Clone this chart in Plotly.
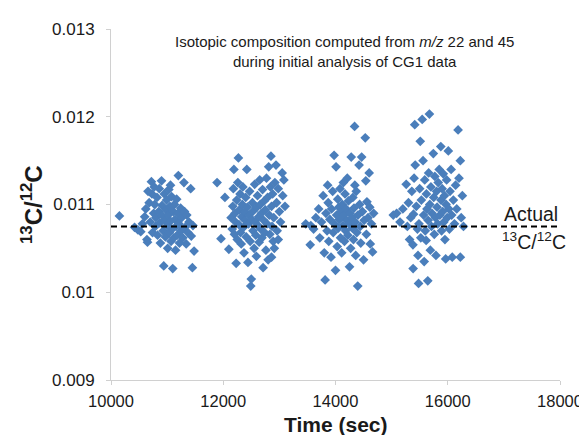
import plotly.graph_objects as go

# ---- data ----
time_s1 = [10150, 10420, 10480, 10530, 10560, 10600, 10620, 10640, 10650, 10680, 10700, 10720, 10730, 10740, 10760,
           10780, 10790, 10800, 10820, 10830, 10850, 10860, 10870, 10880, 10900, 10910, 10920, 10930, 10940, 10950,
           10960, 10970, 10980, 10990, 11000, 11010, 11020, 11030, 11040, 11050, 11060, 11070, 11080, 11090, 11100,
           11110, 11120, 11130, 11140, 11150, 11160, 11170, 11180, 11190, 11200, 11210, 11220, 11240, 11250, 11260,
           11280, 11300, 11310, 11320, 11340, 11350, 11370, 11390, 11420, 11430, 11450, 11460, 11480, 10660, 10770, 11060]
ratio_s1 = [0.01087, 0.01074, 0.01071, 0.01069, 0.01078, 0.01086, 0.01095, 0.01060, 0.01057, 0.01102, 0.01080, 0.01126,
            0.01112, 0.01068, 0.01090, 0.01100, 0.01075, 0.01085, 0.01108, 0.01065, 0.01092, 0.01118, 0.01079, 0.01056,
            0.01127, 0.01099, 0.01087, 0.01070, 0.01030, 0.01112, 0.01082, 0.01063, 0.01094, 0.01105, 0.01076, 0.01050,
            0.01088, 0.01117, 0.01068, 0.01098, 0.01081, 0.01058, 0.01109, 0.01072, 0.01027, 0.01092, 0.01062, 0.01100,
            0.01083, 0.01048, 0.01075, 0.01106, 0.01065, 0.01090, 0.01133, 0.01078, 0.01056, 0.01096, 0.01070, 0.01085,
            0.01062, 0.01125, 0.01092, 0.01074, 0.01055, 0.01088, 0.01068, 0.01080, 0.01118, 0.01064, 0.01028, 0.01076,
            0.01047, 0.01115, 0.01120, 0.01122]

time_s2 = [11890, 11960, 12030, 12100, 12140, 12160, 12170, 12180, 12190, 12200, 12210, 12220, 12230, 12240, 12250,
           12260, 12270, 12280, 12290, 12300, 12310, 12320, 12330, 12340, 12350, 12360, 12370, 12380, 12390, 12400,
           12410, 12420, 12430, 12440, 12450, 12460, 12470, 12480, 12490, 12500, 12510, 12520, 12530, 12540, 12550,
           12560, 12570, 12580, 12590, 12600, 12610, 12620, 12630, 12640, 12650, 12660, 12670, 12680, 12690, 12700,
           12710, 12720, 12730, 12740, 12750, 12760, 12770, 12780, 12790, 12800, 12810, 12820, 12830, 12840, 12850,
           12860, 12870, 12880, 12890, 12900, 12910, 12920, 12940, 12950, 12960, 12980, 13000, 13020, 13050, 13060,
           13080, 13100, 12980, 12860]
ratio_s2 = [0.01125, 0.01061, 0.01108, 0.01049, 0.01085, 0.01072, 0.01098, 0.01118, 0.01140, 0.01066, 0.01090, 0.01080,
            0.01033, 0.01105, 0.01060, 0.01125, 0.01153, 0.01077, 0.01094, 0.01112, 0.01068, 0.01055, 0.01086, 0.01100,
            0.01120, 0.01074, 0.01045, 0.01092, 0.01082, 0.01108, 0.01063, 0.01140, 0.01097, 0.01034, 0.01078, 0.01088,
            0.01115, 0.01058, 0.01007, 0.01015, 0.01083, 0.01102, 0.01070, 0.01093, 0.01050, 0.01123, 0.01080, 0.01065,
            0.01041, 0.01097, 0.01110, 0.01076, 0.01086, 0.01057, 0.01128, 0.01100, 0.01072, 0.01090, 0.01062, 0.01117,
            0.01028, 0.01082, 0.01104, 0.01068, 0.01094, 0.01048, 0.01130, 0.01078, 0.01108, 0.01037, 0.01143, 0.01088,
            0.01066, 0.01120, 0.01155, 0.01098, 0.01075, 0.01112, 0.01058, 0.01085, 0.01050, 0.01125, 0.01145, 0.01102,
            0.01070, 0.01118, 0.01092, 0.01080, 0.01136, 0.01110, 0.01128, 0.01098, 0.01060, 0.01040]

time_s3 = [13470, 13550, 13560, 13610, 13650, 13700, 13720, 13750, 13780, 13800, 13815, 13830, 13850, 13860, 13870,
           13880, 13900, 13920, 13930, 13950, 13960, 13975, 13980, 14000, 14010, 14020, 14030, 14040, 14050, 14060,
           14070, 14080, 14090, 14100, 14110, 14120, 14130, 14140, 14150, 14160, 14170, 14180, 14190, 14200, 14210,
           14220, 14230, 14240, 14250, 14260, 14270, 14280, 14290, 14300, 14310, 14320, 14330, 14340, 14345, 14350,
           14360, 14370, 14380, 14396, 14400, 14420, 14430, 14440, 14450, 14466, 14480, 14500, 14510, 14530, 14540,
           14550, 14560, 14580, 14600, 14610, 14620, 14640, 14660, 14680]
ratio_s3 = [0.01078, 0.01054, 0.01076, 0.01072, 0.01085, 0.01095, 0.01062, 0.01080, 0.01110, 0.01045, 0.01014, 0.01090,
            0.01070, 0.01122, 0.01102, 0.01058, 0.01083, 0.01040, 0.01095, 0.01115, 0.01068, 0.01156, 0.01078, 0.01025,
            0.01143, 0.01088, 0.01052, 0.01106, 0.01073, 0.01097, 0.01083, 0.01118, 0.01062, 0.01092, 0.01045, 0.01100,
            0.01076, 0.01125, 0.01088, 0.01058, 0.01112, 0.01070, 0.01095, 0.01082, 0.01130, 0.01065, 0.01104, 0.01078,
            0.01029, 0.01090, 0.01050, 0.01154, 0.01085, 0.01073, 0.01108, 0.01060, 0.01096, 0.01189, 0.01122, 0.01080,
            0.01042, 0.01115, 0.01068, 0.01007, 0.01088, 0.01145, 0.01100, 0.01075, 0.01056, 0.01154, 0.01092, 0.01037,
            0.01082, 0.01176, 0.01127, 0.01066, 0.01103, 0.01085, 0.01136, 0.01097, 0.01055, 0.01078, 0.01046, 0.01090]

time_s4 = [15030, 15090, 15150, 15200, 15260, 15280, 15300, 15320, 15340, 15360, 15380, 15383, 15390, 15400, 15412,
           15420, 15440, 15460, 15470, 15487, 15500, 15510, 15520, 15530, 15545, 15560, 15570, 15580, 15590, 15600,
           15615, 15620, 15630, 15644, 15650, 15660, 15673, 15680, 15690, 15700, 15710, 15720, 15743, 15750, 15760,
           15770, 15780, 15790, 15800, 15810, 15820, 15830, 15848, 15860, 15876, 15880, 15890, 15900, 15910, 15920,
           15930, 15940, 15950, 15963, 15970, 15980, 15990, 16010, 16020, 16030, 16040, 16060, 16070, 16080, 16100,
           16120, 16140, 16160, 16184, 16200, 16224, 16224, 16240, 16260, 16280, 15480]
ratio_s4 = [0.01088, 0.01090, 0.01080, 0.01095, 0.01123, 0.01075, 0.01102, 0.01060, 0.01085, 0.01115, 0.01054, 0.01027,
            0.01089, 0.01130, 0.01191, 0.01145, 0.01098, 0.01072, 0.01042, 0.01078, 0.01118, 0.01172, 0.01062, 0.01105,
            0.01197, 0.01150, 0.01088, 0.01035, 0.01128, 0.01070, 0.01059, 0.01112, 0.01095, 0.01013, 0.01082, 0.01136,
            0.01203, 0.01100, 0.01048, 0.01120, 0.01075, 0.01090, 0.01158, 0.01108, 0.01066, 0.01132, 0.01085, 0.01042,
            0.01115, 0.01097, 0.01078, 0.01125, 0.01140, 0.01088, 0.01166, 0.01105, 0.01070, 0.01118, 0.01092, 0.01135,
            0.01080, 0.01110, 0.01060, 0.01038, 0.01100, 0.01128, 0.01085, 0.01161, 0.01095, 0.01072, 0.01115, 0.01140,
            0.01088, 0.01040, 0.01105, 0.01078, 0.01122, 0.01095, 0.01185, 0.01130, 0.01150, 0.01040, 0.01085, 0.01110,
            0.01075, 0.01010]

actual_ratio = 0.01075
x_range = [10000, 18000]
y_range = [0.009, 0.013]
x_ticks = [10000, 12000, 14000, 16000, 18000]
x_tick_text = ["10000", "12000", "14000", "16000", "18000"]
y_ticks = [0.009, 0.010, 0.011, 0.012, 0.013]
y_tick_text = ["0.009", "0.01", "0.011", "0.012", "0.013"]

time_all = time_s1 + time_s2 + time_s3 + time_s4
ratio_all = ratio_s1 + ratio_s2 + ratio_s3 + ratio_s4

FONT = "Liberation Sans, Arial, sans-serif"
TXT = "#1a1a1a"

fig = go.Figure()
fig.add_trace(go.Scatter(
    x=time_all, y=ratio_all, mode="markers",
    marker=dict(symbol="diamond", size=7.5, color="#4a7ebb", line=dict(width=0)),
    showlegend=False, hoverinfo="x+y"))
fig.add_trace(go.Scatter(
    x=x_range, y=[actual_ratio, actual_ratio], mode="lines",
    line=dict(color="black", width=2, dash="6px,4px"),
    showlegend=False, hoverinfo="skip"))

axis_common = dict(showgrid=False, zeroline=False, showline=True, linecolor="#d0d0d0", linewidth=1,
                   ticks="outside", tickcolor="#d0d0d0", ticklen=4)

fig.update_layout(
    width=587, height=435,
    margin=dict(l=103, r=26, t=16, b=63),
    paper_bgcolor="white", plot_bgcolor="white",
    font=dict(family=FONT, color=TXT),
    xaxis=dict(range=x_range, tickvals=x_ticks, ticktext=x_tick_text, ticklabelstandoff=2,
               tickfont=dict(family=FONT, size=16.5, color=TXT), **axis_common),
    yaxis=dict(range=y_range, tickvals=y_ticks, ticktext=y_tick_text, ticklabelstandoff=8,
               tickfont=dict(family=FONT, size=17, color=TXT), **axis_common),
    annotations=[
        dict(text="<b>Time (sec)</b>", xref="paper", yref="paper", x=0.5, y=-0.126,
             xanchor="center", yanchor="middle", showarrow=False,
             font=dict(family=FONT, size=21, color=TXT)),
        dict(text="<b><sup>13</sup>C/<sup>12</sup>C</b>", xref="paper", yref="paper", x=-0.177, y=0.50,
             xanchor="center", yanchor="middle", textangle=-90, showarrow=False,
             font=dict(family=FONT, size=24, color=TXT)),
        dict(text="Isotopic composition computed from <i>m/z</i> 22 and 45<br>during initial analysis of CG1 data",
             xref="paper", yref="paper", x=0.52, y=0.935, xanchor="center", yanchor="middle",
             showarrow=False, font=dict(family=FONT, size=15, color=TXT)),
        dict(text="Actual", xref="x", yref="y", x=17490, y=actual_ratio, yanchor="bottom", yshift=-1,
             showarrow=False, font=dict(family=FONT, size=19.5, color=TXT)),
        dict(text="<sup>13</sup>C/<sup>12</sup>C", xref="x", yref="y", x=17540, y=actual_ratio, yanchor="top",
             yshift=-1, showarrow=False, font=dict(family=FONT, size=19.5, color=TXT)),
    ],
)

fig.write_html("out.html")
